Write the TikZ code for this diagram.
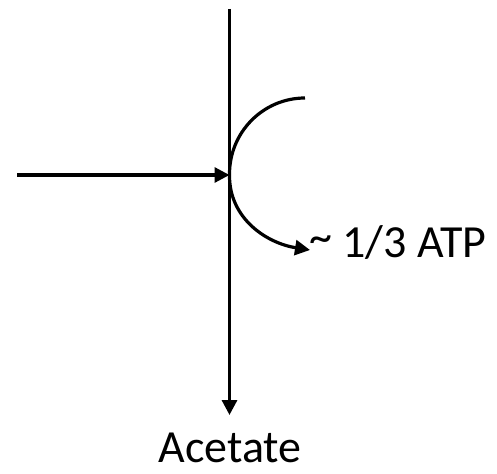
\documentclass[tikz,border=0pt]{standalone}
\usepackage{fontspec}
\setmainfont{Carlito}
\usetikzlibrary{arrows.meta}
\begin{document}
\begin{tikzpicture}[x=1pt,y=-1pt,
  conn/.style={line width=3.2pt,black,-{Triangle[length=15pt,width=15pt]}},
  lbl/.style={font=\fontsize{46}{54}\selectfont,inner sep=0pt}]
\useasboundingbox (0,0) rectangle (497,473);
\coordinate (top) at (229.5,9);
\coordinate (mid) at (229.5,175);
\coordinate (left) at (17,175);
\coordinate (arcstart) at (305,98);
\coordinate (vend) at (229.5,415);
\coordinate (arcend) at (310,250);
\node[lbl,anchor=base] (acetate) at (230,462) {Acetate};
\node[lbl,anchor=base west] (atp) at (309,257) {\raisebox{0.1em}{\char`\~}\ 1/3 ATP};
\draw[conn] (top) -- (vend);
\draw[conn] (left) -- (mid);
\draw[conn] (arcstart) .. controls (263,98) and (229,132.5) .. (mid)
  .. controls (229,218) and (266,243) .. (arcend);
\end{tikzpicture}
\end{document}
